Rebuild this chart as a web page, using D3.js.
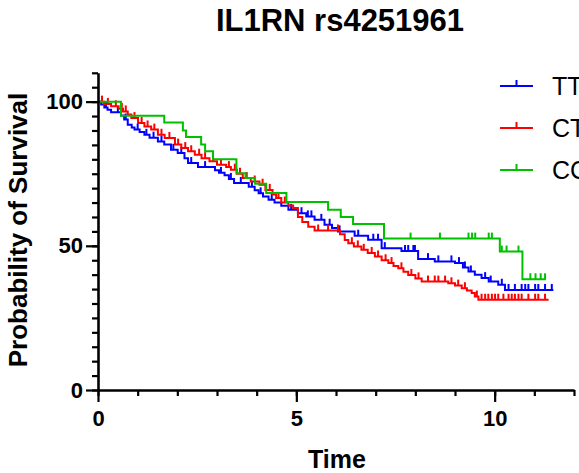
<!DOCTYPE html>
<html>
<head>
<meta charset="utf-8">
<script src="https://cdn.jsdelivr.net/npm/d3@7"></script>
<style>
  body { margin: 0; background: #fff; }
  text { font-family: "Liberation Sans", Arial, sans-serif; }
</style>
</head>
<body>
<div id="container"></div>
<script>
// Kaplan-Meier steps: time of each step and survival (%) after it
const ttTime = [0, 0.08, 0.16, 0.24, 0.33, 0.58, 0.66, 0.75, 0.85, 0.92, 1.05, 1.17, 1.30, 1.51, 1.67, 1.84, 2.01, 2.18, 2.27, 2.52, 2.95, 3.05, 3.19, 3.30, 3.43, 3.80, 3.95, 4.05, 4.16, 4.30, 4.45, 4.62, 4.80, 5.04, 5.25, 5.46, 5.71, 5.90, 6.05, 6.47, 6.81, 7.15, 7.65, 8.07, 8.49, 9.00, 9.20, 9.34, 9.50, 9.67, 9.85, 10.09, 10.26];
const ttSurv = [100, 99, 98, 97.2, 96.3, 95.2, 93.8, 92, 91, 90.3, 89.5, 88.5, 87.5, 86.2, 85.1, 83.3, 82.2, 80.4, 78.7, 77.3, 76.2, 75.3, 74.5, 73.2, 71.8, 70.5, 69.3, 68.2, 67.1, 66.0, 65.0, 63.9, 62.5, 61.3, 60.2, 59.0, 57.3, 56.2, 55.0, 53.5, 52.1, 49.2, 48.2, 45.4, 44.6, 44.0, 42.5, 41.1, 40.0, 38.8, 37.6, 36.5, 34.7];
const ttCens = [0.20, 0.50, 0.70, 1.00, 1.22, 1.40, 1.60, 1.90, 2.10, 2.35, 2.70, 3.10, 3.35, 3.60, 3.88, 4.10, 4.38, 4.87, 5.13, 5.29, 5.38, 5.63, 5.84, 6.09, 6.56, 6.94, 7.06, 7.23, 7.74, 7.82, 7.95, 7.99, 8.32, 8.58, 8.91, 9.10, 9.25, 9.40, 9.76, 9.90, 10.18, 10.35, 10.51, 10.68, 10.77, 10.85, 11.02, 11.10, 11.27, 11.44];
const ttEnd = 11.48;

const ctTime = [0, 0.15, 0.33, 0.52, 0.63, 0.75, 0.84, 1.01, 1.17, 1.34, 1.51, 1.68, 1.94, 2.10, 2.27, 2.44, 2.61, 2.81, 3.00, 3.23, 3.35, 3.50, 3.65, 3.85, 4.07, 4.22, 4.40, 4.49, 4.62, 4.80, 4.92, 5.04, 5.15, 5.30, 5.46, 6.10, 6.22, 6.31, 6.45, 6.64, 6.80, 6.98, 7.15, 7.32, 7.45, 7.57, 7.70, 7.82, 8.00, 8.16, 8.83, 9.00, 9.17, 9.30, 9.42, 9.50, 9.59];
const ctSurv = [100, 99.2, 98.4, 97.5, 96.6, 95.5, 94.3, 92.6, 91.4, 90.3, 88.5, 87.4, 85.1, 83.9, 82.8, 81.6, 80.4, 79.3, 78.1, 77.3, 76.4, 75.0, 73.5, 72.3, 71.2, 69.4, 67.8, 66.6, 65.0, 64.0, 63.1, 60.0, 58.3, 56.6, 55.3, 54.0, 52.0, 50.9, 49.8, 48.6, 47.5, 46.3, 45.0, 44.0, 43.0, 42.2, 41.0, 39.9, 38.7, 37.6, 37.0, 36.2, 35.3, 34.5, 33.6, 32.4, 31.3];
const ctCens = [0.10, 0.25, 0.45, 0.60, 0.70, 0.92, 1.10, 1.25, 1.42, 1.60, 1.80, 2.02, 2.20, 2.35, 2.55, 2.70, 2.90, 3.10, 3.30, 3.45, 3.58, 3.75, 3.95, 4.15, 4.33, 4.55, 4.71, 5.55, 5.80, 6.05, 6.40, 6.55, 6.70, 6.90, 7.06, 7.25, 7.40, 7.65, 7.90, 8.08, 8.32, 8.49, 8.58, 8.75, 8.91, 9.08, 9.25, 9.55, 9.67, 9.76, 9.84, 9.93, 10.01, 10.09, 10.22, 10.35, 10.43, 10.51, 10.60, 10.68, 10.85, 11.02, 11.10, 11.27];
const ctEnd = 11.36;

const ccTime = [0, 0.58, 1.67, 2.14, 2.22, 2.60, 2.70, 2.90, 3.49, 3.72, 3.96, 4.24, 4.75, 5.80, 6.12, 6.43, 7.21, 10.13, 10.70];
const ccSurv = [100, 95.1, 92.8, 90.0, 87.7, 85.1, 82.8, 80.0, 75.2, 73.5, 71.5, 68.3, 65.2, 62.5, 60.0, 57.6, 52.5, 48.0, 38.4];
const ccCens = [7.88, 8.62, 9.34, 9.43, 9.51, 9.85, 9.93, 10.18, 10.30, 10.60, 10.90, 11.03, 11.16, 11.27];
const ccEnd = 11.29;

const groupNames = ['TT', 'CT', 'CC'];
const groupColors = ['#0000ff', '#ff0000', '#00c000'];
const xTicks = [0, 5, 10];
const yTicks = [0, 50, 100];

const groups = [
    { name: 'TT', time: ttTime, surv: ttSurv, cens: ttCens, end: ttEnd },
    { name: 'CT', time: ctTime, surv: ctSurv, cens: ctCens, end: ctEnd },
    { name: 'CC', time: ccTime, surv: ccSurv, cens: ccCens, end: ccEnd }
];

const w = 579;
const h = 473;

const svg = d3.select('#container')
    .append('svg')
    .attr('width', w)
    .attr('height', h);

const xScale = d3.scaleLinear().domain([0, 12]).range([98, 574]);
const yScale = d3.scaleLinear().domain([0, 110]).range([390, 72.8]);

// survival value at time t
const stepAt = (g, t) => {
    let s = g.surv[0];
    g.time.forEach((tt, i) => { if (tt <= t) s = g.surv[i]; });
    return s;
};

const line = d3.line()
    .x(d => xScale(d[0]))
    .y(d => yScale(d[1]))
    .curve(d3.curveStepAfter);

const plot = svg.append('g');

groups.forEach((g, gi) => {
    const pts = g.time.map((t, i) => [t, g.surv[i]]);
    pts.push([g.end, g.surv[g.surv.length - 1]]);
    const color = groupColors[gi];
    plot.append('path')
        .datum(pts)
        .attr('d', line)
        .attr('fill', 'none')
        .attr('stroke', color)
        .attr('stroke-width', 2);

    plot.selectAll(null)
        .data(g.cens)
        .enter()
        .append('line')
        .attr('x1', d => xScale(d))
        .attr('x2', d => xScale(d))
        .attr('y1', d => yScale(stepAt(g, d)))
        .attr('y2', d => yScale(stepAt(g, d)) - 6)
        .attr('stroke', color)
        .attr('stroke-width', 2);
});

// axes
const styleAxis = (sel) => {
    sel.select('.domain').attr('stroke', '#000').attr('stroke-width', 2.6);
    sel.selectAll('.tick line').attr('stroke', '#000').attr('stroke-width', 2.2);
    sel.selectAll('.tick text')
        .attr('font-family', '"Liberation Sans", Arial, sans-serif')
        .attr('font-size', 22)
        .attr('font-weight', 'bold')
        .attr('fill', '#000');
};

svg.append('g')
    .attr('transform', 'translate(0,390)')
    .call(d3.axisBottom(xScale).tickValues(d3.range(0, 13, 1)).tickSize(6).tickSizeOuter(0).tickFormat(''))
    .call(styleAxis);

svg.append('g')
    .attr('transform', 'translate(0,390)')
    .call(d3.axisBottom(xScale).tickValues(xTicks).tickSize(12).tickPadding(8).tickSizeOuter(0))
    .call(styleAxis)
    .call(g => g.select('.domain').remove());

svg.append('g')
    .attr('transform', 'translate(98,0)')
    .call(d3.axisLeft(yScale).tickValues(d3.range(0, 111, 5)).tickSize(6).tickSizeOuter(0).tickFormat(''))
    .call(styleAxis);

svg.append('g')
    .attr('transform', 'translate(98,0)')
    .call(d3.axisLeft(yScale).tickValues(yTicks).tickSize(12).tickPadding(3).tickSizeOuter(0))
    .call(styleAxis)
    .call(g => g.select('.domain').remove());

// titles
svg.append('text')
    .attr('x', 340)
    .attr('y', 31)
    .attr('text-anchor', 'middle')
    .attr('font-size', 31)
    .attr('font-weight', 'bold')
    .text('IL1RN rs4251961');

svg.append('text')
    .attr('x', 337)
    .attr('y', 468)
    .attr('text-anchor', 'middle')
    .attr('font-size', 25)
    .attr('font-weight', 'bold')
    .text('Time');

svg.append('text')
    .attr('transform', 'translate(27,230) rotate(-90)')
    .attr('text-anchor', 'middle')
    .attr('font-size', 26)
    .attr('font-weight', 'bold')
    .text('Probability of Survival');

// legend
const legend = svg.append('g');
groupNames.forEach((name, i) => {
    const y = 86 + i * 42;
    legend.append('line')
        .attr('x1', 500).attr('x2', 533)
        .attr('y1', y).attr('y2', y)
        .attr('stroke', groupColors[i])
        .attr('stroke-width', 2);
    legend.append('line')
        .attr('x1', 516.5).attr('x2', 516.5)
        .attr('y1', y).attr('y2', y - 6)
        .attr('stroke', groupColors[i])
        .attr('stroke-width', 2);
    legend.append('text')
        .attr('x', 552)
        .attr('y', y + 9)
        .attr('font-size', 25)
        .text(name);
});
</script>
</body>
</html>
